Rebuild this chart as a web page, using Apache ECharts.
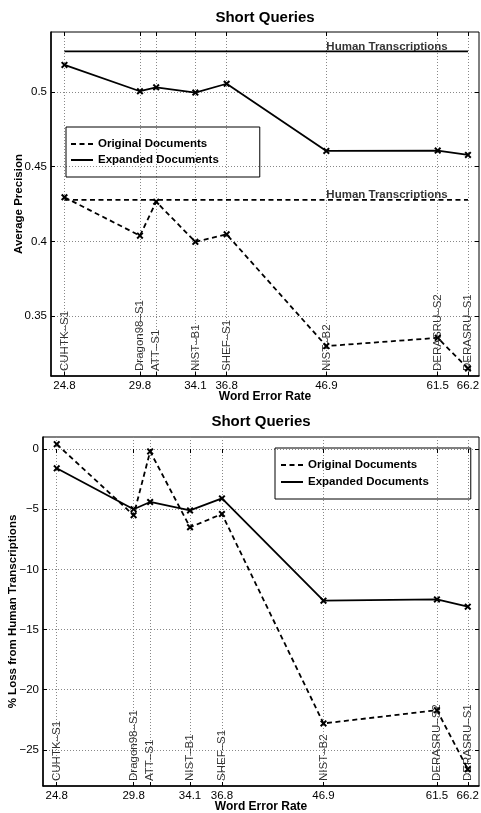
<!DOCTYPE html>
<html><head><meta charset="utf-8">
<script src="https://cdn.jsdelivr.net/npm/echarts@6/dist/echarts.min.js"></script>
<style>html,body{margin:0;padding:0;background:#fff}#c{width:481px;height:813px}</style>
</head><body><div id="c"></div>
<script>
// ---- data ----
const systems = ['CUHTK–S1','Dragon98–S1','ATT–S1','NIST–B1','SHEF–S1','NIST–B2','DERASRU–S2','DERASRU–S1'];
const wer = [24.8, 29.8, 31.0, 34.1, 36.8, 46.9, 61.5, 66.2];
const werTickLabels = [24.8, 29.8, 34.1, 36.8, 46.9, 61.5, 66.2];
const apOriginal = [0.4295, 0.4038, 0.4265, 0.3997, 0.4047, 0.3300, 0.3355, 0.3150];
const apExpanded = [0.5180, 0.5004, 0.5030, 0.4995, 0.5054, 0.4605, 0.4607, 0.4578];
const humanOriginal = 0.4277;
const humanExpanded = 0.527;
const lossOriginal = [0.4, -5.5, -0.2, -6.5, -5.4, -22.8, -21.7, -26.6];
const lossExpanded = [-1.6, -5.0, -4.4, -5.1, -4.1, -12.6, -12.5, -13.1];
const apTicks = [0.35, 0.4, 0.45, 0.5];
const lossTicks = [-25, -20, -15, -10, -5, 0];
const humanLabel = 'Human Transcriptions';

const FONT = '"Liberation Sans", Arial, Helvetica, sans-serif';
const X_MIN = 24, X_MAX = 68;
const Y1_MIN = 0.31, Y1_MAX = 0.54, Y2_MIN = -28, Y2_MAX = 1;
const XSYM = 'path://M0,2L2,0L5,3L8,0L10,2L7,5L10,8L8,10L5,7L2,10L0,8L3,5Z';
const DASH = [5, 3.5];
const GRIDLINE = {show: true, lineStyle: {color: '#888', type: [1, 2], width: 1}};

const pairs = ys => wer.map((x, i) => [x, ys[i]]);

function xAxes(gridIndex) {
  return [{
    type: 'log', logBase: 10, gridIndex, min: X_MIN, max: X_MAX, position: 'bottom',
    name: 'Word Error Rate', nameLocation: 'middle', nameGap: 15, nameMoveOverlap: false,
    nameTextStyle: {fontFamily: FONT, fontSize: 12, fontWeight: 'bold', color: '#000'},
    axisLine: {show: true, onZero: false, lineStyle: {color: '#000', width: 1.5}},
    axisTick: {show: true, inside: true, length: 4, customValues: wer, lineStyle: {color: '#000'}},
    axisLabel: {show: true, customValues: werTickLabels, margin: 4, fontFamily: FONT, fontSize: 11.5, color: '#000',
      formatter: v => Number(v).toFixed(1)},
    splitLine: GRIDLINE, minorTick: {show: false}, minorSplitLine: {show: false}
  }, {
    type: 'log', logBase: 10, gridIndex, min: X_MIN, max: X_MAX, position: 'top',
    axisLine: {show: false},
    axisTick: {show: true, inside: true, length: 4, customValues: wer, lineStyle: {color: '#000'}},
    axisLabel: {show: false}, splitLine: {show: false}
  }];
}
function yAxes(gridIndex, min, max, ticks, name, nameGap, fmt) {
  return [{
    type: 'value', gridIndex, min, max, position: 'left',
    name, nameLocation: 'middle', nameGap, nameMoveOverlap: false,
    nameTextStyle: {fontFamily: FONT, fontSize: 11.5, fontWeight: 'bold', color: '#000'},
    axisLine: {show: true, onZero: false, lineStyle: {color: '#000', width: 1.5}},
    axisTick: {show: true, inside: true, length: 4, customValues: ticks, lineStyle: {color: '#000'}},
    axisLabel: {show: true, customValues: ticks, margin: 4, fontFamily: FONT, fontSize: 11.5, color: '#000', formatter: fmt},
    splitLine: GRIDLINE
  }, {
    type: 'value', gridIndex, min, max, position: 'right',
    axisLine: {show: false},
    axisTick: {show: true, inside: true, length: 4, customValues: ticks, lineStyle: {color: '#000'}},
    axisLabel: {show: false}, splitLine: {show: false}
  }];
}

function dataLine(name, xi, yi, ys, dashed) {
  return {
    name, type: 'line', xAxisIndex: xi, yAxisIndex: yi, data: pairs(ys),
    symbol: XSYM, symbolSize: 7, symbolKeepAspect: true, showSymbol: true,
    itemStyle: {color: '#000'},
    lineStyle: {color: '#000', width: 1.8, type: dashed ? DASH : 'solid'},
    z: 3, silent: true
  };
}
function humanLine(y, dashed) {
  return {
    name: 'human', type: 'line', xAxisIndex: 0, yAxisIndex: 0,
    data: [[wer[0], y], [wer[wer.length - 1], y]], symbol: 'none',
    lineStyle: {color: '#000', width: 1.8, type: dashed ? DASH : 'solid'}, silent: true, z: 3
  };
}
function annotations(xi, yi, ymin) {
  return {
    name: 'systems', type: 'scatter', xAxisIndex: xi, yAxisIndex: yi, clip: false, silent: true,
    data: wer.map((x, i) => ({name: systems[i], value: [x, ymin]})),
    symbol: 'circle', symbolSize: 2, itemStyle: {color: 'rgba(0,0,0,0)'},
    label: {show: true, formatter: p => p.name, position: [1, -4], rotate: 90, align: 'left', verticalAlign: 'middle',
      fontFamily: FONT, fontSize: 11.5, color: '#000'},
    z: 5
  };
}

const legendBase = {
  orient: 'vertical', itemWidth: 22, itemHeight: 12, itemGap: 4, selectedMode: false,
  borderColor: '#000', borderWidth: 1, borderRadius: 0,
  textStyle: {fontFamily: FONT, fontSize: 11.5, fontWeight: 'bold', color: '#000'},
  itemStyle: {opacity: 0},
  data: ['Original Documents', 'Expanded Documents']
};

const gridBase = {show: true, borderColor: '#000', borderWidth: 1, backgroundColor: 'transparent',
  containLabel: false, outerBoundsMode: 'none'};

const option = {
  animation: false,
  title: [
    {text: 'Short Queries', left: 265, top: 10, textAlign: 'center', padding: 0,
      textStyle: {fontFamily: FONT, fontSize: 15, fontWeight: 'bold', color: '#000'}},
    {text: 'Short Queries', left: 261, top: 414, textAlign: 'center', padding: 0,
      textStyle: {fontFamily: FONT, fontSize: 15, fontWeight: 'bold', color: '#000'}}
  ],
  legend: [
    Object.assign({}, legendBase, {left: 66, top: 127, padding: [11, 41, 11, 4]}),
    Object.assign({}, legendBase, {left: 275, top: 448, itemGap: 5, padding: [11, 42, 11, 5]})
  ],
  grid: [
    Object.assign({}, gridBase, {left: 51, top: 32, right: 2, height: 344}),
    Object.assign({}, gridBase, {left: 43, top: 437, right: 2, height: 349})
  ],
  xAxis: [...xAxes(0), ...xAxes(1)],
  yAxis: [
    ...yAxes(0, Y1_MIN, Y1_MAX, apTicks, 'Average Precision', 26, v => String(v)),
    ...yAxes(1, Y2_MIN, Y2_MAX, lossTicks, '% Loss from Human Transcriptions', 24, v => String(v).replace('-', '−'))
  ],
  series: [
    dataLine('Original Documents', 0, 0, apOriginal, true),
    dataLine('Expanded Documents', 0, 0, apExpanded, false),
    humanLine(humanOriginal, true),
    humanLine(humanExpanded, false),
    {
      name: 'humanLabels', type: 'scatter', xAxisIndex: 0, yAxisIndex: 0, silent: true,
      data: [[wer[5], humanExpanded], [wer[5], humanOriginal]],
      symbol: 'circle', symbolSize: 2, itemStyle: {color: 'rgba(0,0,0,0)'},
      label: {show: true, formatter: humanLabel, position: [1, 2], align: 'left', verticalAlign: 'bottom',
        fontFamily: FONT, fontSize: 11.5, fontWeight: 'bold', color: '#000'},
      z: 5
    },
    annotations(0, 0, Y1_MIN),
    dataLine('Original Documents', 2, 2, lossOriginal, true),
    dataLine('Expanded Documents', 2, 2, lossExpanded, false),
    annotations(2, 2, Y2_MIN)
  ]
};

const chart = echarts.init(document.getElementById('c'), null, {renderer: 'canvas'});
chart.setOption(option);
</script>
</body></html>
